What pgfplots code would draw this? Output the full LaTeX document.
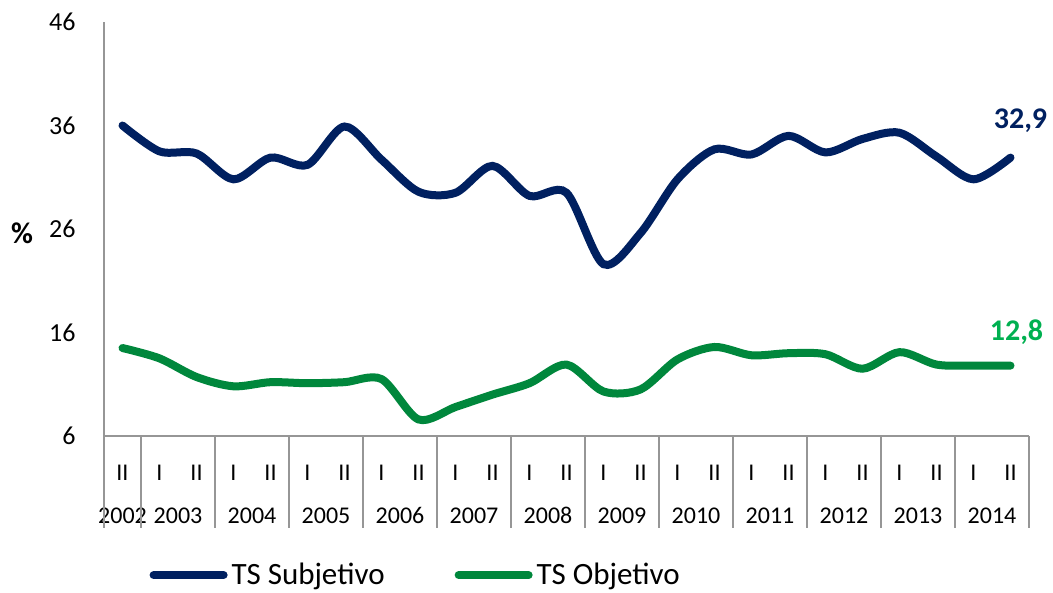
\documentclass[border=0pt]{standalone}
\usepackage{fontspec}
\setmainfont{Carlito}
\usepackage{pgfplots}
\pgfplotsset{compat=1.18}
\definecolor{tsnavy}{HTML}{002060}
\definecolor{tsgreen}{HTML}{00873C}
\definecolor{lblgreen}{HTML}{00B050}
\definecolor{axgray}{HTML}{969696}

\pgfplotstableread{
x subj obj
0  36.0 14.5
1  33.5 13.5
2  33.3 11.7
3  30.8 10.8
4  32.9 11.2
5  32.2 11.1
6  35.9 11.2
7  32.7 11.5
8  29.6 7.6
9  29.5 8.8
10 32.1 10.0
11 29.2 11.1
12 29.5 12.9
13 22.6 10.3
14 25.6 10.5
15 30.8 13.4
16 33.7 14.6
17 33.2 13.8
18 35.0 14.0
19 33.4 13.9
20 34.7 12.5
21 35.3 14.1
22 33.0 12.9
23 30.8 12.8
24 32.9 12.8
}\datatable

\begin{document}
\begin{tikzpicture}
\useasboundingbox (-52pt,-78.5pt) rectangle (474.5pt,218pt);
\begin{axis}[
  at={(0,0)}, anchor=south west,
  scale only axis,
  width=462.5pt, height=207pt,
  xmin=-0.5, xmax=24.5,
  ymin=6, ymax=46,
  ytick={6,16,26,36,46},
  xtick={0,...,24},
  xticklabels={II,I,II,I,II,I,II,I,II,I,II,I,II,I,II,I,II,I,II,I,II,I,II,I,II},
  extra x ticks={0,1.5,3.5,5.5,7.5,9.5,11.5,13.5,15.5,17.5,19.5,21.5,23.5},
  extra x tick labels={2002,2003,2004,2005,2006,2007,2008,2009,2010,2011,2012,2013,2014},
  extra x tick style={xticklabel style={yshift=-21.5pt}},
  axis x line*=bottom, axis y line*=left,
  axis line style={axgray, line width=1pt, -},
  major tick length=0pt,
  tick style={draw=none},
  xticklabel style={font=\fontsize{12}{14}\selectfont, anchor=base, inner sep=0pt, yshift=-22pt},
  yticklabel style={font=\fontsize{13}{15}\selectfont, anchor=east, inner sep=0pt, xshift=-14pt},
  /pgf/number format/assume math mode=true,
  clip=false,
  legend columns=2,
  legend style={draw=none, fill=none, at={(0.338,-0.336)}, anchor=center,
    font=\fontsize{15.5}{18}\selectfont,
    /tikz/every even column/.append style={column sep=33pt}},
  legend image code/.code={\draw[#1, line width=4pt, line cap=round] (0pt,0pt) -- (35pt,0pt);},
]
\pgfplotsinvokeforeach{-0.5,0.5,2.5,4.5,6.5,8.5,10.5,12.5,14.5,16.5,18.5,20.5,22.5,24.5}{
  \draw[axgray, line width=1pt] (axis cs:#1,6) -- ++(0pt,-46pt);
}
\addplot[tsnavy, line width=4pt, line cap=round, smooth, tension=0.5] table[x=x, y=subj] {\datatable};
\addlegendentry{TS Subjetivo}
\addplot[tsgreen, line width=4pt, line cap=round, smooth, tension=0.5] table[x=x, y=obj] {\datatable};
\addlegendentry{TS Objetivo}
\node[tsnavy, font=\fontsize{15}{17}\bfseries\selectfont, anchor=center] at (axis cs:24,32.9) [xshift=5pt, yshift=18.5pt] {32,9};
\node[lblgreen, font=\fontsize{15}{17}\bfseries\selectfont, anchor=center] at (axis cs:24,12.8) [xshift=3pt, yshift=16.5pt] {12,8};
\node[font=\fontsize{15}{17}\bfseries\selectfont] at (rel axis cs:0,0.5) [xshift=-41pt, yshift=-2pt] {\%};
\end{axis}
\end{tikzpicture}
\end{document}
